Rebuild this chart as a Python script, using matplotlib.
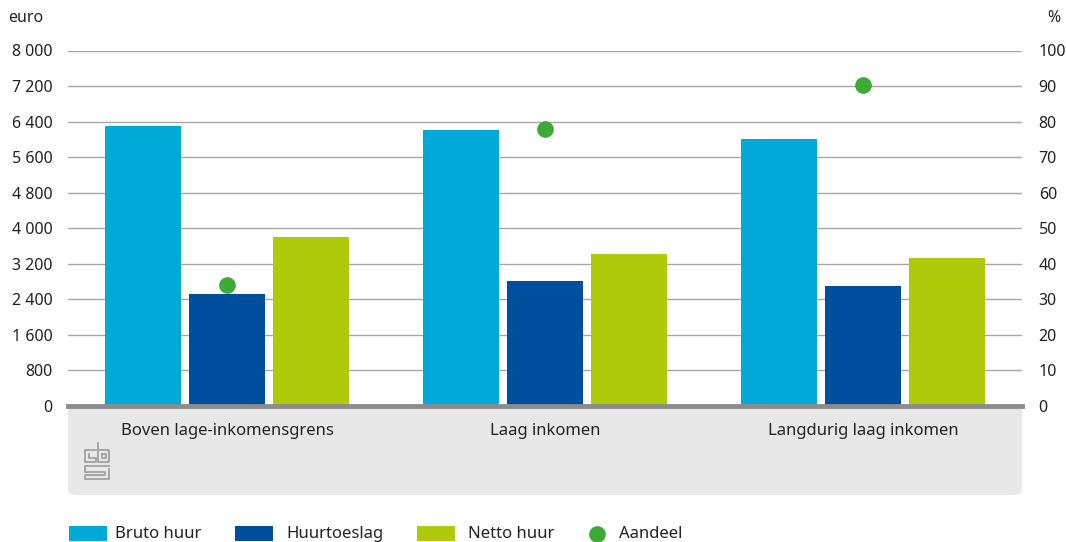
import numpy as np
import matplotlib
matplotlib.use('Agg')
from matplotlib import pyplot as plt
from matplotlib.patches import FancyBboxPatch, Rectangle
from matplotlib.lines import Line2D

plt.rcParams['font.family'] = ['Noto Sans', 'DejaVu Sans']

categories = ['Boven lage-inkomensgrens', 'Laag inkomen', 'Langdurig laag inkomen']
bruto_huur = [6300, 6210, 6010]
huurtoeslag = [2530, 2820, 2710]
netto_huur = [3800, 3430, 3320]
aandeel = [34, 78, 90.3]
left_ticks = [0, 800, 1600, 2400, 3200, 4000, 4800, 5600, 6400, 7200, 8000]
right_ticks = [0, 10, 20, 30, 40, 50, 60, 70, 80, 90, 100]

c_bruto = '#00AAD8'
c_huur = '#004F9E'
c_netto = '#AFCA0B'
c_dot = '#3CAA36'
txt = '#222222'

W, H = 1066, 542
fig = plt.figure(figsize=(W/100, H/100), dpi=100)

# grey panel under the axis
panel = FancyBboxPatch((68/W, 47/H), (1022-68)/W, (136-47)/H,
                       boxstyle='round,pad=0,rounding_size=0.008',
                       transform=fig.transFigure, facecolor='#e8e8e8',
                       edgecolor='none', zorder=-2)
fig.patches.append(panel)
fig.patches.append(Rectangle((68/W, 128/H), (1022-68)/W, 8/H, transform=fig.transFigure,
                             facecolor='#e8e8e8', edgecolor='none', zorder=-2))

ax = fig.add_axes([68/W, 136/H, (1022-68)/W, (491.5-136)/H])
ax.set_facecolor('none')
x = np.arange(len(categories))
bw = 76/318
step = 84/318
ax.bar(x - step, bruto_huur, bw, color=c_bruto, zorder=3)
ax.bar(x, huurtoeslag, bw, color=c_huur, zorder=3)
ax.bar(x + step, netto_huur, bw, color=c_netto, zorder=3)
ax.set_xlim(-0.5, 2.5)
ax.set_ylim(0, 8000)
ax.set_yticks(left_ticks)
ax.set_yticklabels([f'{v:,}'.replace(',', ' ') for v in left_ticks], fontsize=11.5, color=txt)
ax.tick_params(axis='y', length=0, pad=11)
ax.set_xticks([])
for s in ax.spines.values():
    s.set_visible(False)
ax.yaxis.grid(True, color='#a8a8a8', linewidth=1)
ax.set_axisbelow(True)
ax.axhline(0, color='#8c8c8c', linewidth=3.5, zorder=4, clip_on=False)

ax2 = ax.twinx()
ax2.set_ylim(0, 100)
ax2.set_yticks(right_ticks)
ax2.set_yticklabels([str(v) for v in right_ticks], fontsize=11.5, color=txt)
ax2.tick_params(axis='y', length=0, pad=12)
for s in ax2.spines.values():
    s.set_visible(False)
ax2.plot(x, aandeel, 'o', color=c_dot, markersize=11, zorder=5, linestyle='none')

for xi, c in zip(x, categories):
    ax.text(xi, -25/355.5, c, transform=ax.get_xaxis_transform(), ha='center', va='center',
            fontsize=12, color=txt, zorder=6)

fig.text(8/W, 1 - 18/H, 'euro', fontsize=11.5, color=txt, va='center', ha='left')
fig.text(1060/W, 1 - 18/H, '%', fontsize=11.5, color=txt, va='center', ha='right')

# cbs logo (rough)
lc = '#a0a0a0'
def fl(xs, ys):
    fig.add_artist(Line2D([v/W for v in xs], [1 - v/H for v in ys], color=lc, linewidth=1.3))
fl([96, 85, 85, 96, 96, 89, 89], [450, 450, 462, 462, 458, 458, 454])
fl([98, 98, 109, 109, 98], [443, 462, 462, 450, 450])
fl([102, 102, 106, 106, 102], [454, 458, 458, 454, 454])
fl([109, 85, 85, 105, 105, 85, 85, 109, 109], [466, 466, 472, 472, 475, 475, 479, 479, 469])

# legend
ly = 534
items = [(69, 115, c_bruto, 'Bruto huur'), (235, 286, c_huur, 'Huurtoeslag'),
         (417, 468, c_netto, 'Netto huur')]
for x0, tx, col, lab in items:
    fig.patches.append(Rectangle((x0/W, 1 - 541/H), 38/W, 15/H, transform=fig.transFigure,
                                 facecolor=col, edgecolor='none'))
    fig.text(tx/W, 1 - ly/H, lab, fontsize=12, color=txt, va='center', ha='left')
fig.add_artist(Line2D([597/W], [1 - 534/H], marker='o', color=c_dot, markersize=11,
                      linestyle='none'))
fig.text(619/W, 1 - ly/H, 'Aandeel', fontsize=12, color=txt, va='center', ha='left')

fig.savefig('out.png', dpi=100)
